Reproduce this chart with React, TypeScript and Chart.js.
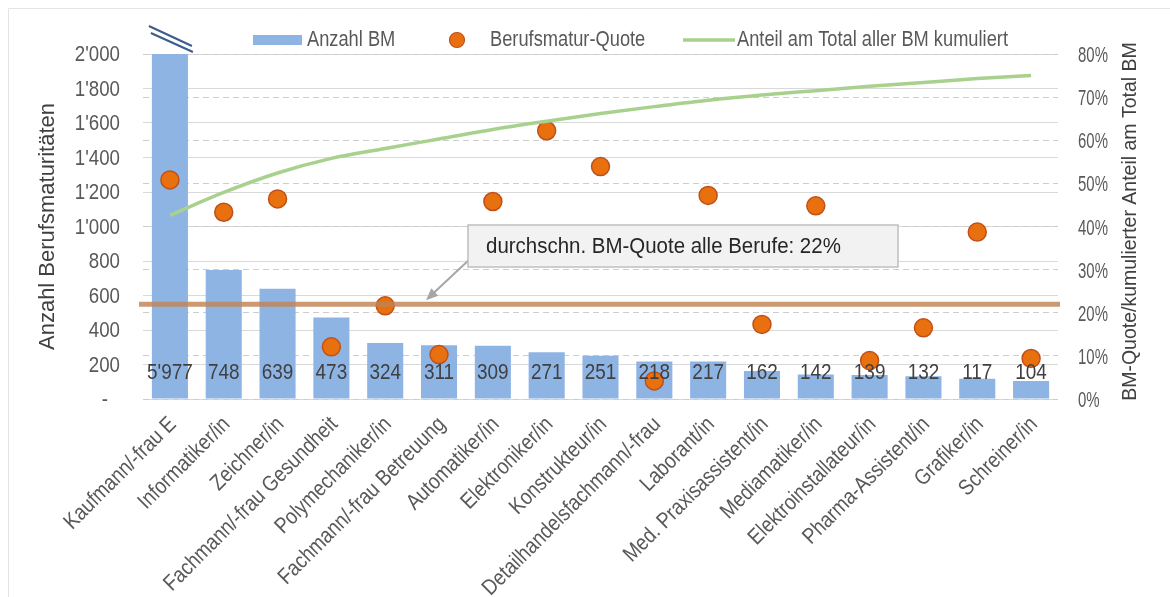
import { useEffect, useRef } from 'react';
import { Chart, registerables } from 'chart.js';

Chart.register(...registerables);

// Berufsmaturitäten nach Lehrberuf
const occupations = [
  'Kaufmann/-frau E',
  'Informatiker/in',
  'Zeichner/in',
  'Fachmann/-frau Gesundheit',
  'Polymechaniker/in',
  'Fachmann/-frau Betreuung',
  'Automatiker/in',
  'Elektroniker/in',
  'Konstrukteur/in',
  'Detailhandelsfachmann/-frau',
  'Laborant/in',
  'Med. Praxisassistent/in',
  'Mediamatiker/in',
  'Elektroinstallateur/in',
  'Pharma-Assistent/in',
  'Grafiker/in',
  'Schreiner/in',
];

// Anzahl BM
const bmCounts = [5977, 748, 639, 473, 324, 311, 309, 271, 251, 218, 217, 162, 142, 139, 132, 117, 104];

// Berufsmatur-Quote in %
const bmQuote = [50.8, 43.3, 46.4, 12.1, 21.6, 10.3, 45.8, 62.2, 53.9, 4.2, 47.2, 17.3, 44.8, 8.9, 16.5, 38.7, 9.4];

// Anteil am Total aller BM, kumuliert in %
const cumulativeShare = [42.6, 47.9, 52.4, 55.8, 58.1, 60.3, 62.5, 64.4, 66.2, 67.8, 69.3, 70.5, 71.5, 72.5, 73.4, 74.3, 75.0];

// durchschnittliche BM-Quote über alle Berufe in %
const averageQuote = 22;

const countAxisMax = 2000;
const countAxisStep = 200;
const shareAxisMax = 80;
const shareAxisStep = 10;

const legendLabels = ['Anzahl BM', 'Berufsmatur-Quote', 'Anteil am Total aller BM kumuliert'];
const leftTitle = 'Anzahl Berufsmaturitäten';
const rightTitle = 'BM-Quote/kumulierter Anteil am Total BM';
const averageNote = `durchschn. BM-Quote alle Berufe: ${averageQuote}%`;

const REGULAR = '"Liberation Sans", Arial, sans-serif';

const BAR_COLOR = '#8EB4E3';
const DOT_FILL = '#E8700F';
const DOT_BORDER = '#C0501A';
const CUM_COLOR = '#A9D18E';
const AVG_COLOR = 'rgba(193,130,84,0.82)';
const TICK_COLOR = '#595959';

const fmt = (n: number) => String(Math.round(n)).replace(/\B(?=(\d{3})+(?!\d))/g, "'");

// Schmal laufender Text: horizontal gestauchte Glyphen
function narrowText(
  ctx: CanvasRenderingContext2D,
  text: string,
  x: number,
  y: number,
  sx: number,
  align: CanvasTextAlign,
  rot = 0,
) {
  ctx.save();
  ctx.translate(x, y);
  if (rot) ctx.rotate(rot);
  ctx.scale(sx, 1);
  ctx.textAlign = align;
  ctx.textBaseline = 'middle';
  ctx.fillText(text, 0, 0);
  ctx.restore();
}

const decorPlugin = {
  id: 'decor',
  beforeDraw(chart: any) {
    const { ctx, width, height } = chart;
    ctx.save();
    ctx.fillStyle = '#ffffff';
    ctx.fillRect(0, 0, width, height);
    ctx.strokeStyle = '#e4e4e4';
    ctx.lineWidth = 1;
    ctx.beginPath();
    ctx.moveTo(8.5, height);
    ctx.lineTo(8.5, 8.5);
    ctx.lineTo(width, 8.5);
    ctx.stroke();
    ctx.restore();
  },
  afterDatasetsDraw(chart: any) {
    const { ctx, chartArea: a, scales } = chart;
    const xs = scales.x;
    const yL = scales.y;
    const yR = scales.yR;
    const barMeta = chart.getDatasetMeta(0);

    ctx.save();

    // Durchschnittslinie der BM-Quote über die ganze Breite
    const avgY = yR.getPixelForValue(averageQuote);
    ctx.strokeStyle = AVG_COLOR;
    ctx.lineWidth = 5;
    ctx.beginPath();
    ctx.moveTo(a.left - 4, avgY);
    ctx.lineTo(a.right + 2, avgY);
    ctx.stroke();

    // Werte am Fuss der Balken
    ctx.font = `22px ${REGULAR}`;
    ctx.fillStyle = '#404040';
    barMeta.data.forEach((bar: any, i: number) => {
      narrowText(ctx, fmt(bmCounts[i]), bar.x, a.bottom - 26, 0.86, 'center');
    });

    // Bruchzeichen über abgeschnittenen Balken
    ctx.strokeStyle = '#3B5C8F';
    ctx.lineWidth = 2;
    bmCounts.forEach((v, i) => {
      if (v <= countAxisMax) return;
      const bx = barMeta.data[i].x;
      ctx.beginPath();
      ctx.moveTo(bx - 21, a.top - 28);
      ctx.lineTo(bx + 22, a.top - 8);
      ctx.moveTo(bx - 19, a.top - 21);
      ctx.lineTo(bx + 23, a.top - 2);
      ctx.stroke();
    });

    // Hinweisfeld mit Pfeil zur Durchschnittslinie
    const boxX = a.left + 325;
    const boxY = a.top + 171;
    const boxW = 430;
    const boxH = 42;
    const tipX = xs.getPixelForValue(5) - 13;
    const tipY = avgY - 4;
    const startX = boxX + 3;
    const startY = boxY + 33;
    ctx.strokeStyle = '#A6A6A6';
    ctx.fillStyle = '#A6A6A6';
    ctx.lineWidth = 2;
    const ang = Math.atan2(tipY - startY, tipX - startX);
    const headLen = 13;
    ctx.beginPath();
    ctx.moveTo(startX, startY);
    ctx.lineTo(tipX - Math.cos(ang) * headLen * 0.8, tipY - Math.sin(ang) * headLen * 0.8);
    ctx.stroke();
    ctx.beginPath();
    ctx.moveTo(tipX, tipY);
    ctx.lineTo(tipX - headLen * Math.cos(ang - 0.4), tipY - headLen * Math.sin(ang - 0.4));
    ctx.lineTo(tipX - headLen * Math.cos(ang + 0.4), tipY - headLen * Math.sin(ang + 0.4));
    ctx.closePath();
    ctx.fill();

    ctx.fillStyle = '#F2F2F2';
    ctx.fillRect(boxX, boxY, boxW, boxH);
    ctx.strokeStyle = '#BFBFBF';
    ctx.lineWidth = 1.5;
    ctx.strokeRect(boxX, boxY, boxW, boxH);
    ctx.font = `22px ${REGULAR}`;
    ctx.fillStyle = '#262626';
    narrowText(ctx, averageNote, boxX + 18, boxY + boxH / 2 + 1, 0.93, 'left');

    // Legende
    const ly = 40;
    ctx.font = `22px ${REGULAR}`;
    ctx.fillStyle = BAR_COLOR;
    ctx.fillRect(253, ly - 5, 49, 10);
    ctx.fillStyle = TICK_COLOR;
    narrowText(ctx, legendLabels[0], 307, ly, 0.83, 'left');

    ctx.beginPath();
    ctx.arc(457, ly, 7.5, 0, Math.PI * 2);
    ctx.fillStyle = DOT_FILL;
    ctx.fill();
    ctx.strokeStyle = DOT_BORDER;
    ctx.lineWidth = 1.2;
    ctx.stroke();
    ctx.fillStyle = TICK_COLOR;
    narrowText(ctx, legendLabels[1], 490, ly, 0.83, 'left');

    ctx.strokeStyle = CUM_COLOR;
    ctx.lineWidth = 3.5;
    ctx.beginPath();
    ctx.moveTo(683, ly);
    ctx.lineTo(735, ly);
    ctx.stroke();
    ctx.fillStyle = TICK_COLOR;
    narrowText(ctx, legendLabels[2], 737, ly, 0.83, 'left');

    // Achsenbeschriftungen
    ctx.font = `22px ${REGULAR}`;
    ctx.fillStyle = TICK_COLOR;
    yL.ticks.forEach((t: any) => {
      const y = yL.getPixelForValue(t.value) + 1;
      if (t.value === 0) narrowText(ctx, '-', 108, y, 0.85, 'right');
      else narrowText(ctx, fmt(t.value), 120, y, 0.85, 'right');
    });
    yR.ticks.forEach((t: any) => {
      const y = yR.getPixelForValue(t.value) + 2;
      narrowText(ctx, `${t.value}%`, 1078, y, 0.68, 'left');
    });
    xs.ticks.forEach((t: any, i: number) => {
      const x = xs.getPixelForValue(t.value);
      narrowText(ctx, occupations[i], x + 3, a.bottom + 22, 0.86, 'right', -Math.PI / 4);
    });

    // Titel der rechten Achse
    ctx.translate(1131, (a.top + a.bottom) / 2 - 5);
    ctx.rotate(-Math.PI / 2);
    ctx.font = `19.5px ${REGULAR}`;
    ctx.fillStyle = '#404040';
    ctx.textAlign = 'center';
    ctx.textBaseline = 'middle';
    ctx.fillText(rightTitle, 0, 0);

    ctx.restore();
  },
};

export default function App() {
  const canvasRef = useRef<HTMLCanvasElement | null>(null);

  useEffect(() => {
    const canvas = canvasRef.current;
    if (!canvas) return;
    const chart = new Chart(canvas, {
      type: 'bar',
      data: {
        labels: occupations,
        datasets: [
          {
            type: 'bar',
            label: legendLabels[0],
            data: bmCounts,
            yAxisID: 'y',
            backgroundColor: BAR_COLOR,
            categoryPercentage: 1,
            barPercentage: 0.67,
            order: 3,
          },
          {
            type: 'line',
            label: legendLabels[1],
            data: bmQuote,
            yAxisID: 'yR',
            showLine: false,
            pointRadius: 9,
            pointBackgroundColor: DOT_FILL,
            pointBorderColor: DOT_BORDER,
            pointBorderWidth: 1.5,
            order: 2,
          },
          {
            type: 'line',
            label: legendLabels[2],
            data: cumulativeShare,
            yAxisID: 'yR',
            borderColor: CUM_COLOR,
            borderWidth: 3.5,
            pointRadius: 0,
            cubicInterpolationMode: 'monotone',
            order: 1,
          },
        ],
      },
      options: {
        responsive: false,
        animation: false,
        devicePixelRatio: 1,
        layout: { padding: { top: 54, left: 0, right: 0, bottom: 0 } },
        plugins: {
          legend: { display: false },
          tooltip: { enabled: false },
        },
        scales: {
          x: {
            grid: { display: false, drawTicks: false },
            border: { display: false },
            ticks: { display: false, autoSkip: false },
            afterFit: (s: any) => {
              s.height = 198;
            },
          },
          y: {
            position: 'left',
            min: 0,
            max: countAxisMax,
            ticks: { display: false, stepSize: countAxisStep },
            grid: { color: '#D9D9D9', lineWidth: 1, drawTicks: false },
            border: { display: false },
            title: {
              display: true,
              text: leftTitle,
              color: '#404040',
              font: { family: REGULAR, size: 22 },
              padding: { top: 35, bottom: 0 },
            },
            afterFit: (s: any) => {
              s.width = 143;
            },
          },
          yR: {
            position: 'right',
            min: 0,
            max: shareAxisMax,
            ticks: { display: false, stepSize: shareAxisStep },
            grid: { color: '#CDCDCD', lineWidth: 1, drawTicks: false },
            border: { display: false, dash: [6, 4] },
            afterFit: (s: any) => {
              s.width = 112;
            },
          },
        },
      },
      plugins: [decorPlugin],
    });
    return () => chart.destroy();
  }, []);

  return (
    <div style={{ position: 'absolute', left: 0, top: 0, width: 1170, height: 597, background: '#fff' }}>
      <canvas ref={canvasRef} width={1170} height={597} style={{ display: 'block' }} />
    </div>
  );
}
